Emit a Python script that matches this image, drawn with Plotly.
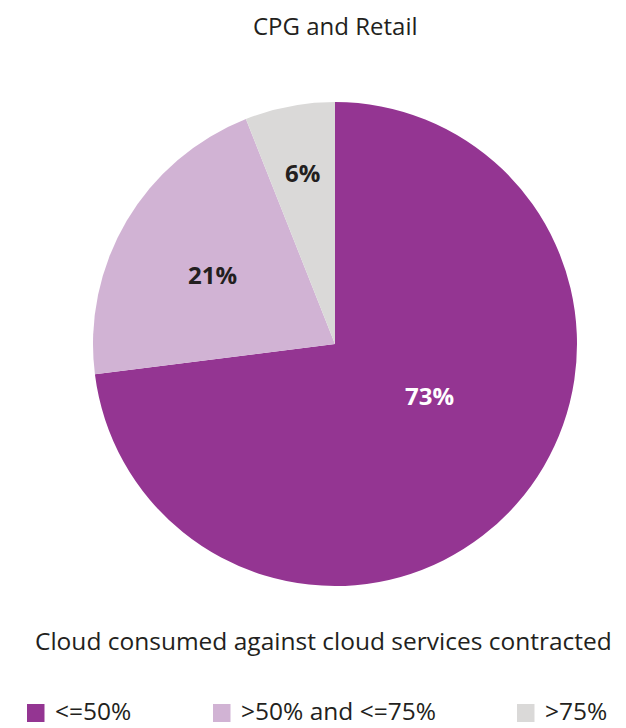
import math
import plotly.graph_objects as go

labels = ["<=50%", ">50% and <=75%", ">75%"]
values = [73, 21, 6]
colors = ["#943592", "#D1B3D4", "#DAD9D8"]
text_colors = ["#FFFFFF", "#231F20", "#231F20"]
title_text = "CPG and Retail"
subtitle_text = "Cloud consumed against cloud services contracted"

# label placement (angle clockwise from 12 o'clock, fraction of radius)
label_angle = [118.7, 299.8, 349.4]
label_rfrac = [0.447, 0.581, 0.719]

W, H = 626, 728
FONT = "Open Sans"
CX, CY, R = 335, 344, 242

fig = go.Figure()
fig.add_trace(go.Pie(
    labels=labels, values=values, sort=False, direction="clockwise", rotation=0,
    marker=dict(colors=colors, line=dict(width=0)),
    textinfo="none",
    domain=dict(x=[(CX - R) / W, (CX + R) / W], y=[(H - CY - R) / H, (H - CY + R) / H]),
    showlegend=False, hoverinfo="label+percent",
))

annotations = [
    dict(text=title_text, x=335 / W, y=1 - 26 / H, xref="paper", yref="paper",
         showarrow=False, font=dict(family=FONT, size=24, color="#231F20"),
         xanchor="center", yanchor="middle"),
    dict(text=subtitle_text, x=324 / W, y=1 - 640 / H, xref="paper", yref="paper",
         showarrow=False, font=dict(family=FONT, size=24.5, color="#231F20"),
         xanchor="center", yanchor="middle"),
]
total = sum(values)
for v, ang, rf, tc in zip(values, label_angle, label_rfrac, text_colors):
    a = math.radians(ang)
    px = CX + rf * R * math.sin(a)
    py = CY - rf * R * math.cos(a)
    annotations.append(dict(text=f"<b>{round(100 * v / total)}%</b>", x=px / W, y=1 - py / H,
                            xref="paper", yref="paper", showarrow=False,
                            font=dict(family=FONT, size=24, color=tc),
                            xanchor="center", yanchor="middle"))

shapes = []
leg_x = [27, 213, 517]
sq_y = 713
for lx, lab, col in zip(leg_x, labels, colors):
    shapes.append(dict(type="rect", xref="paper", yref="paper",
                       x0=lx / W, x1=(lx + 17.5) / W, y0=1 - (sq_y + 9) / H, y1=1 - (sq_y - 9) / H,
                       fillcolor=col, line=dict(width=0)))
    annotations.append(dict(text=lab, x=(lx + 27) / W, y=0, xref="paper", yref="paper",
                            showarrow=False, font=dict(family=FONT, size=24.5, color="#231F20"),
                            xanchor="left", yanchor="bottom", borderpad=0))

fig.update_layout(
    width=W, height=H, margin=dict(l=0, r=0, t=0, b=0),
    paper_bgcolor="white", plot_bgcolor="white",
    annotations=annotations, shapes=shapes,
)
fig.write_html("out.html")
